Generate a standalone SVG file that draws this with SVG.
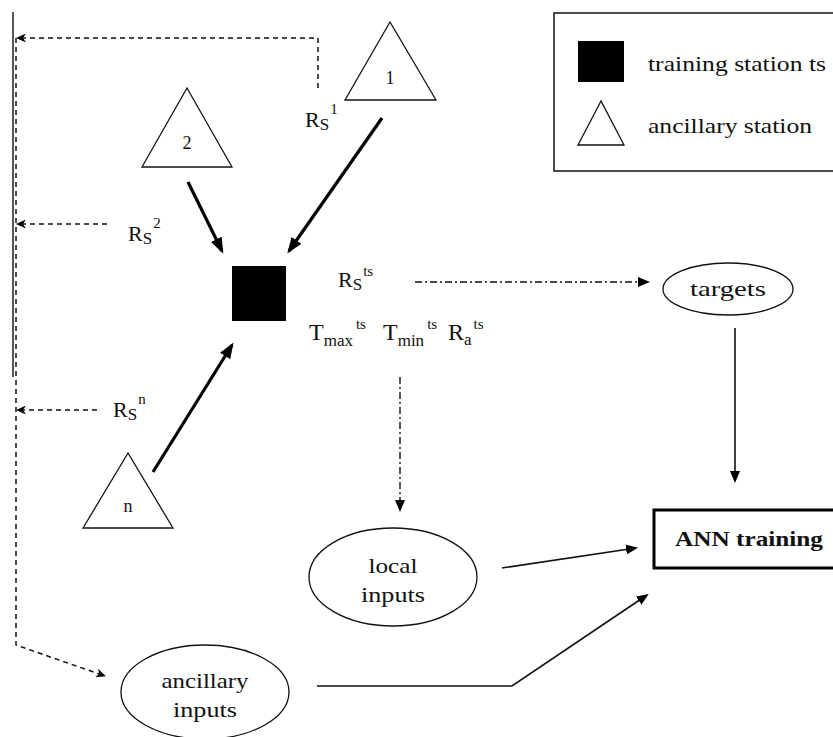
<svg xmlns="http://www.w3.org/2000/svg" width="833" height="737" viewBox="0 0 833 737">
<style>
text{font-family:"Liberation Serif","Times New Roman",serif;fill:#111}
.lbl{font-size:22px}
.num{font-size:18px}
.sub{font-size:15px}
.tri{fill:#fff;stroke:#111;stroke-width:1.3}
.ell{fill:#fff;stroke:#111;stroke-width:1.3}
.thick{stroke:#000;stroke-width:3.2;fill:none}
.thin{stroke:#111;stroke-width:1.6;fill:none}
.dash{stroke:#111;stroke-width:1.5;fill:none;stroke-dasharray:5,4}
.dd{stroke:#111;stroke-width:1.4;fill:none;stroke-dasharray:7,3,2,3}
</style>
<defs>
<marker id="ah" markerUnits="userSpaceOnUse" markerWidth="16" markerHeight="12" viewBox="0 0 16 12" refX="13" refY="6" orient="auto"><path d="M0,0 L16,6 L0,12 z" fill="#000"/></marker>
<marker id="as" markerUnits="userSpaceOnUse" markerWidth="12" markerHeight="10" viewBox="0 0 12 10" refX="10" refY="5" orient="auto"><path d="M0,0 L12,5 L0,10 z" fill="#000"/></marker>
<marker id="ad" markerUnits="userSpaceOnUse" markerWidth="10" markerHeight="9" viewBox="0 0 10 9" refX="9" refY="4.5" orient="auto"><path d="M0,0 L10,4.5 L0,9 L3,4.5 z" fill="#000"/></marker>
</defs>

<g id="connectors">
<line x1="13" y1="12" x2="13" y2="377" stroke="#111" stroke-width="1.4"/>
<polyline class="dash" points="318,88 318,38 17,38" marker-end="url(#ad)"/>
<line class="dash" x1="107" y1="224" x2="17" y2="224" marker-end="url(#ad)"/>
<line class="dash" x1="97" y1="410" x2="17" y2="410" marker-end="url(#ad)"/>
<polyline class="dash" points="16,38 16,645 105,676" marker-end="url(#ad)"/>
<line class="thick" x1="382" y1="118" x2="289" y2="251" marker-end="url(#ah)"/>
<line class="thick" x1="188" y1="182" x2="222" y2="251" marker-end="url(#ah)"/>
<line class="thick" x1="153" y1="472" x2="232" y2="345" marker-end="url(#ah)"/>
<line class="dd" x1="415" y1="282" x2="648" y2="282" marker-end="url(#as)"/>
<line class="dd" x1="400" y1="377" x2="400" y2="510" marker-end="url(#as)"/>
<line class="thin" x1="735" y1="328" x2="735" y2="481" marker-end="url(#as)"/>
<line class="thin" x1="502" y1="568" x2="636" y2="548" marker-end="url(#as)"/>
<polyline class="thin" points="317,686 512,686 647,595" marker-end="url(#as)"/>
</g>

<g id="legend">
<rect x="554" y="13" width="290" height="158" fill="#fff" stroke="#111" stroke-width="1.5"/>
<rect x="578" y="41" width="46" height="41" fill="#000"/>
<polygon class="tri" points="601,101 578,145 624,145"/>
<text class="lbl" x="648" y="71" textLength="178" lengthAdjust="spacingAndGlyphs">training station ts</text>
<text class="lbl" x="648" y="133" textLength="164" lengthAdjust="spacingAndGlyphs">ancillary station</text>
</g>

<g id="station1">
<polygon class="tri" points="390,22 345,100 436,100"/>
<text class="num" x="390" y="84" text-anchor="middle">1</text>
</g>
<g id="station2">
<polygon class="tri" points="187,88 142,167 232,167"/>
<text class="num" x="187" y="149" text-anchor="middle">2</text>
</g>
<g id="stationn">
<polygon class="tri" points="128,453 83,528 173,528"/>
<text class="num" x="128" y="512" text-anchor="middle">n</text>
</g>
<g id="training-station">
<rect x="232" y="266" width="54" height="55" fill="#000"/>
</g>

<g id="labels">
<text class="lbl" x="305" y="127">R<tspan font-size="17" dy="3">S</tspan><tspan class="sub" dy="-16" dx="1">1</tspan></text>
<text class="lbl" x="128" y="241">R<tspan font-size="17" dy="3">S</tspan><tspan class="sub" dy="-16" dx="1">2</tspan></text>
<text class="lbl" x="113" y="417">R<tspan font-size="17" dy="3">S</tspan><tspan class="sub" dy="-16" dx="1">n</tspan></text>
<text class="lbl" x="338" y="287">R<tspan font-size="17" dy="3">S</tspan><tspan class="sub" dy="-14" dx="1">ts</tspan></text>
<text font-size="24" x="309" y="340">T<tspan font-size="17" dy="6">max</tspan><tspan class="sub" dy="-17" dx="3">ts</tspan></text>
<text font-size="24" x="383" y="340">T<tspan font-size="17" dy="6">min</tspan><tspan class="sub" dy="-17" dx="3">ts</tspan></text>
<text font-size="24" x="448" y="340">R<tspan font-size="17" dy="5">a</tspan><tspan class="sub" dy="-16" dx="2">ts</tspan></text>
</g>

<g id="targets">
<ellipse class="ell" cx="728" cy="289" rx="65" ry="26"/>
<text class="lbl" x="728" y="296" text-anchor="middle" textLength="76" lengthAdjust="spacingAndGlyphs">targets</text>
</g>
<g id="ann-training">
<rect x="654" y="510" width="190" height="58" fill="#fff" stroke="#000" stroke-width="3"/>
<text x="749" y="546" text-anchor="middle" font-size="21" font-weight="bold" textLength="148" lengthAdjust="spacingAndGlyphs">ANN training</text>
</g>
<g id="local-inputs">
<ellipse class="ell" cx="393" cy="577" rx="84" ry="49"/>
<text class="lbl" x="393" y="573" text-anchor="middle" textLength="49" lengthAdjust="spacingAndGlyphs">local</text>
<text class="lbl" x="393" y="602" text-anchor="middle" textLength="64" lengthAdjust="spacingAndGlyphs">inputs</text>
</g>
<g id="ancillary-inputs">
<ellipse class="ell" cx="205" cy="692" rx="84" ry="47"/>
<text class="lbl" x="205" y="688" text-anchor="middle" textLength="87" lengthAdjust="spacingAndGlyphs">ancillary</text>
<text class="lbl" x="205" y="717" text-anchor="middle" textLength="64" lengthAdjust="spacingAndGlyphs">inputs</text>
</g>
</svg>
